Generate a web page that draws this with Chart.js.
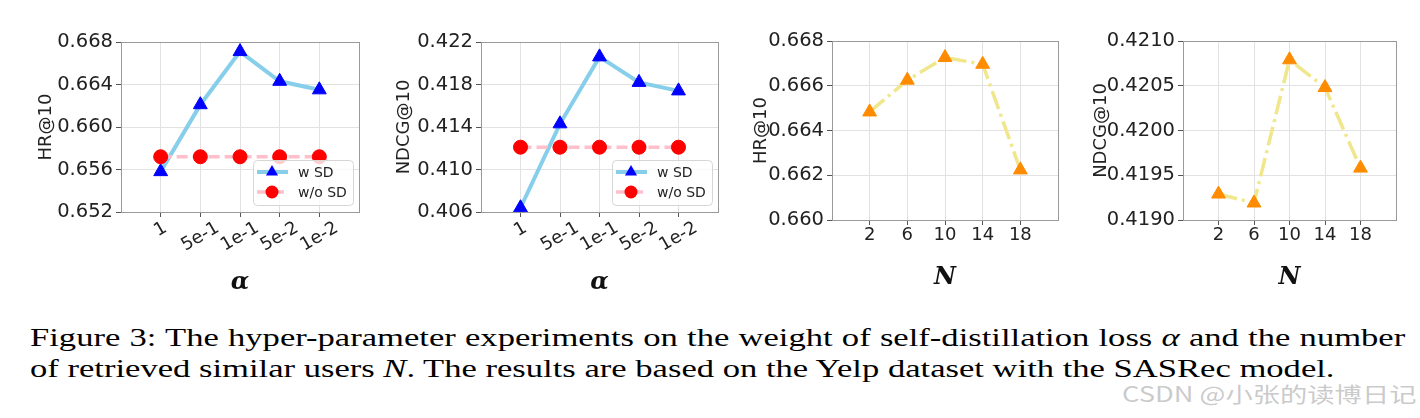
<!DOCTYPE html>
<html>
<head>
<meta charset="utf-8">
<script src="https://cdn.jsdelivr.net/npm/chart.js@4.4.0/dist/chart.umd.min.js"></script>
<style>
  body { margin: 0; background: #fff; width: 1420px; height: 418px; overflow: hidden; position: relative; }
  canvas { position: absolute; top: 0; }
  #caption { position: absolute; left: 30px; top: 322px; width: 1034px; font-family: "Liberation Serif", serif; font-size: 26px; line-height: 31px; color: #000; transform: scaleX(1.33); transform-origin: 0 0; white-space: nowrap; }
  #caption .first { text-align: justify; text-align-last: justify; }
  #mark { position: absolute; left: 1122px; top: 378px; font-family: "Noto Sans CJK SC", sans-serif; font-size: 21px; color: rgba(150, 150, 150, 0.5); transform: scaleX(1.3); transform-origin: 0 0; white-space: nowrap; }
</style>
</head>
<body>
<canvas id="c1" width="370" height="300" style="left:0px"></canvas>
<canvas id="c2" width="370" height="300" style="left:360px"></canvas>
<canvas id="c3" width="350" height="300" style="left:720px"></canvas>
<canvas id="c4" width="360" height="300" style="left:1060px"></canvas>
<div id="caption">
  <div class="first">Figure 3: The hyper-parameter experiments on the weight of self-distillation loss <i>α</i> and the number</div>
  <div>of retrieved similar users <i>N</i>. The results are based on the Yelp dataset with the SASRec model.</div>
</div>
<div id="mark">CSDN @小张的读博日记</div>
<script>
// categories
const alphaLabels = ['1', '5e-1', '1e-1', '5e-2', '1e-2'];
const nLabels = ['2', '6', '10', '14', '18'];

// series values
const hrWithSD = [0.6558, 0.6621, 0.6671, 0.6643, 0.6635];
const hrWithoutSD = [0.6572, 0.6572, 0.6572, 0.6572, 0.6572];
const ndcgWithSD = [0.4064, 0.4143, 0.4206, 0.4182, 0.4174];
const ndcgWithoutSD = [0.4121, 0.4121, 0.4121, 0.4121, 0.4121];
const hrByN = [0.66483, 0.66625, 0.66726, 0.66696, 0.66224];
const ndcgByN = [0.41929, 0.41919, 0.42079, 0.42048, 0.41958];

// tick labels
const hrAlphaTicks = [0.652, 0.656, 0.660, 0.664, 0.668];
const ndcgAlphaTicks = [0.406, 0.410, 0.414, 0.418, 0.422];
const hrNTicks = [0.660, 0.662, 0.664, 0.666, 0.668];
const ndcgNTicks = [0.4190, 0.4195, 0.4200, 0.4205, 0.4210];

const TEXT = '#222';
const sans = 'DejaVu Sans';

const toPoints = (vals) => vals.map((v, i) => ({ x: i, y: v }));

const withSD = (vals) => ({
  label: 'w SD', data: toPoints(vals), order: 1, clip: 0,
  borderColor: '#87ceeb', borderWidth: 4,
  pointStyle: 'triangle', pointRadius: 8, pointBackgroundColor: '#0000ff', pointBorderColor: '#0000ff', pointBorderWidth: 1,
});
const withoutSD = (vals) => ({
  label: 'w/o SD', data: toPoints(vals), order: 0, clip: 0,
  borderColor: '#ffc0cb', borderWidth: 3.5, borderDash: [11, 5],
  pointStyle: 'circle', pointRadius: 7, pointBackgroundColor: '#ff0000', pointBorderColor: '#ff0000', pointBorderWidth: 1,
});
const byN = (vals) => ({
  label: 'N', data: toPoints(vals), clip: 0,
  borderColor: '#f0e68c', borderWidth: 3.5, borderDash: [19, 5, 3, 5],
  pointStyle: 'triangle', pointRadius: 8, pointBackgroundColor: '#ff8c00', pointBorderColor: '#ff8c00', pointBorderWidth: 1,
});

// axes frame on all four sides
const frame = {
  id: 'frame',
  afterDatasetsDraw(chart) {
    const { ctx, chartArea: a } = chart;
    ctx.save();
    ctx.strokeStyle = '#9a9a9a';
    ctx.lineWidth = 1;
    ctx.strokeRect(Math.round(a.left) + 0.5, Math.round(a.top) + 0.5, Math.round(a.right - a.left), Math.round(a.bottom - a.top));
    ctx.restore();
  }
};

// x tick labels rotated 30 degrees, centred on the tick like matplotlib
const slantedTicks = {
  id: 'slantedTicks',
  afterDraw(chart, args, opts) {
    if (!opts.labels) return;
    const { ctx, chartArea } = chart;
    const xs = chart.scales.x;
    const ang = 30 * Math.PI / 180;
    ctx.save();
    ctx.font = '18px "' + sans + '"';
    ctx.fillStyle = TEXT;
    ctx.textAlign = 'center';
    ctx.textBaseline = 'middle';
    opts.labels.forEach((lab, i) => {
      const w = ctx.measureText(lab).width;
      const bh = w * Math.sin(ang) + 13 * Math.cos(ang);
      ctx.save();
      ctx.translate(xs.getPixelForValue(i), chartArea.bottom + 9 + bh / 2);
      ctx.rotate(-ang);
      ctx.fillText(lab, 0, 0);
      ctx.restore();
    });
    ctx.restore();
  }
};

// legend box in the lower right corner of the plot
const cornerLegend = {
  id: 'cornerLegend',
  afterDatasetsDraw(chart, args, opts) {
    if (!opts.show) return;
    const { ctx, chartArea: a } = chart;
    const bw = 100, bh = 45;
    const x0 = a.right - 6 - bw, y0 = a.bottom - 7 - bh;
    ctx.save();
    ctx.beginPath();
    ctx.roundRect(x0 + 0.5, y0 + 0.5, bw, bh, 4);
    ctx.fillStyle = 'rgba(255,255,255,0.8)';
    ctx.fill();
    ctx.strokeStyle = '#d6d6d6';
    ctx.lineWidth = 1;
    ctx.stroke();
    const items = [chart.data.datasets[0], chart.data.datasets[1]];
    items.forEach((ds, k) => {
      const y = y0 + 12 + k * 20;
      ctx.beginPath();
      ctx.setLineDash(ds.borderDash || []);
      ctx.strokeStyle = ds.borderColor;
      ctx.lineWidth = ds.borderWidth;
      ctx.moveTo(x0 + 4, y);
      ctx.lineTo(x0 + 35, y);
      ctx.stroke();
      ctx.setLineDash([]);
      ctx.fillStyle = ds.pointBackgroundColor;
      const cx = x0 + 19;
      ctx.beginPath();
      if (ds.pointStyle === 'triangle') {
        const r = 7;
        ctx.moveTo(cx, y - r);
        ctx.lineTo(cx + r * 0.866, y + r * 0.5);
        ctx.lineTo(cx - r * 0.866, y + r * 0.5);
        ctx.closePath();
      } else {
        ctx.arc(cx, y, 6.5, 0, Math.PI * 2);
      }
      ctx.fill();
      ctx.fillStyle = TEXT;
      ctx.font = '14px "' + sans + '"';
      ctx.textAlign = 'left';
      ctx.textBaseline = 'middle';
      ctx.fillText(ds.label, x0 + 45, y + 1);
    });
    ctx.restore();
  }
};

function makePanel(id, p) {
  return new Chart(document.getElementById(id), {
    type: 'line',
    data: { datasets: p.datasets },
    plugins: [frame, slantedTicks, cornerLegend],
    options: {
      responsive: false,
      animation: false,
      events: [],
      devicePixelRatio: 1,
      layout: { padding: { left: 0, top: p.top, right: p.right, bottom: 0 } },
      elements: { line: { tension: 0 } },
      plugins: {
        legend: { display: false },
        tooltip: { enabled: false },
        slantedTicks: { labels: p.slanted ? p.labels : null },
        cornerLegend: { show: !!p.legend },
      },
      scales: {
        x: {
          type: 'linear', min: -1, max: 5,
          afterBuildTicks: (s) => { s.ticks = p.labels.map((_, i) => ({ value: i })); },
          afterFit: (s) => { s.height = p.xHeight; },
          border: { display: false },
          grid: { color: '#e2e2e2', lineWidth: 1, drawTicks: true, tickLength: 5, tickColor: '#555' },
          ticks: {
            display: !p.slanted, autoSkip: false, maxRotation: 0, padding: 0,
            color: TEXT, font: { family: sans, size: 18 },
            callback: (v) => p.labels[v],
          },
          title: {
            display: true, text: p.xTitle, color: '#111',
            font: { family: 'DejaVu Serif', size: 24, style: 'italic', weight: 'bold' },
            padding: { top: 0, bottom: p.xTitlePad },
          },
        },
        y: {
          type: 'linear', min: p.yTicks[0], max: p.yTicks[p.yTicks.length - 1],
          afterBuildTicks: (s) => { s.ticks = p.yTicks.map((v) => ({ value: v })); },
          afterFit: (s) => { s.width = p.yWidth; },
          border: { display: false },
          grid: { color: '#e2e2e2', lineWidth: 1, drawTicks: true, tickLength: 5, tickColor: '#555' },
          ticks: {
            autoSkip: false, padding: 3, color: TEXT, font: { family: sans, size: 19.5 },
            callback: (v) => v.toFixed(p.decimals),
          },
          title: {
            display: true, text: p.yTitle, color: TEXT,
            font: { family: sans, size: 18 },
            padding: { top: p.yTitlePad, bottom: 0 },
          },
        },
      },
    },
  });
}

makePanel('c1', {
  datasets: [withSD(hrWithSD), withoutSD(hrWithoutSD)], labels: alphaLabels, slanted: true, legend: true,
  yTicks: hrAlphaTicks, decimals: 3, yTitle: 'HR@10', xTitle: 'α',
  top: 42, right: 11, yWidth: 121, xHeight: 88, yTitlePad: 36, xTitlePad: 3,
});
makePanel('c2', {
  datasets: [withSD(ndcgWithSD), withoutSD(ndcgWithoutSD)], labels: alphaLabels, slanted: true, legend: true,
  yTicks: ndcgAlphaTicks, decimals: 3, yTitle: 'NDCG@10', xTitle: 'α',
  top: 42, right: 12, yWidth: 121, xHeight: 88, yTitlePad: 34, xTitlePad: 3,
});
makePanel('c3', {
  datasets: [byN(hrByN)], labels: nLabels, slanted: false, legend: false,
  yTicks: hrNTicks, decimals: 3, yTitle: 'HR@10', xTitle: 'N',
  top: 41, right: 12, yWidth: 112, xHeight: 80, yTitlePad: 31, xTitlePad: 8,
});
makePanel('c4', {
  datasets: [byN(ndcgByN)], labels: nLabels, slanted: false, legend: false,
  yTicks: ndcgNTicks, decimals: 4, yTitle: 'NDCG@10', xTitle: 'N',
  top: 41, right: 24, yWidth: 123, xHeight: 80, yTitlePad: 31, xTitlePad: 8,
});
</script>
</body>
</html>
